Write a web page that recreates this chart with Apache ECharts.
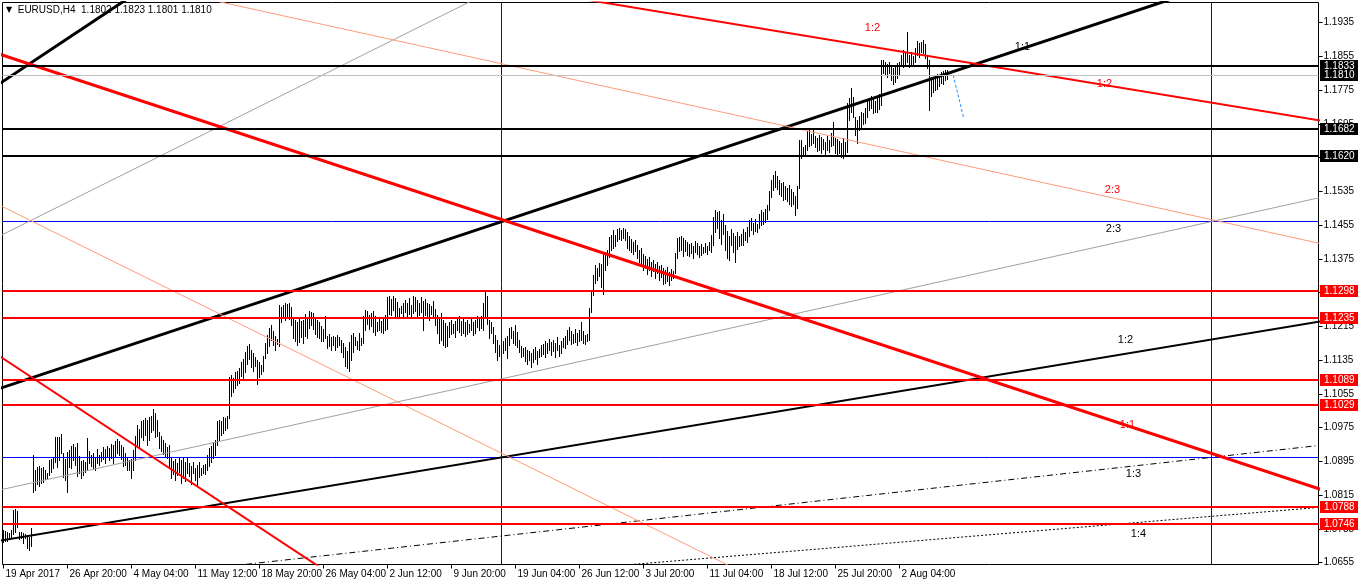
<!DOCTYPE html>
<html><head><meta charset="utf-8">
<script src="https://cdn.jsdelivr.net/npm/echarts@6.0.0/dist/echarts.min.js"></script>
<style>html,body{margin:0;padding:0;background:#fff}#c{width:1358px;height:584px}</style>
</head><body><div id="c"></div>
<script>
// ---- DATA ----
const highs = [
1.0733,1.0730,1.0728,1.0726,1.0733,1.0780,1.0782,1.0778,1.0728,1.0728,1.0726,1.0723,1.0721,1.0716,1.0738,
1.0910,1.0875,1.0882,1.0884,1.0879,1.0882,1.0875,1.0868,1.0898,1.0901,1.0903,1.0953,1.0953,1.0953,1.0960,
1.0915,1.0901,1.0917,1.0922,1.0932,1.0936,1.0929,1.0939,1.0908,1.0896,1.0898,1.0894,1.0951,1.0920,1.0910,
1.0915,1.0905,1.0924,1.0910,1.0917,1.0929,1.0924,1.0932,1.0927,1.0936,1.0934,1.0943,1.0948,1.0943,1.0934,
1.0929,1.0915,1.0905,1.0898,1.0901,1.0922,1.0955,1.0981,1.0972,1.0991,1.0993,1.0998,1.0993,1.1000,1.1003,
1.1019,1.1010,1.0993,1.0965,1.0955,1.0946,1.0939,1.0929,1.0934,1.0903,1.0896,1.0901,1.0891,1.0905,1.0898,
1.0903,1.0894,1.0903,1.0891,1.0884,1.0894,1.0879,1.0887,1.0894,1.0879,1.0887,1.0889,
1.0910,1.0927,1.0932,1.0941,1.0946,1.0991,1.0993,1.0991,1.1000,1.0998,1.1003,1.1095,1.1100,1.1093,1.1107,
1.1109,1.1116,1.1131,1.1138,1.1154,1.1169,1.1173,1.1159,1.1152,1.1143,1.1136,1.1131,1.1124,1.1145,1.1176,
1.1195,1.1211,1.1218,1.1204,1.1192,1.1185,1.1266,1.1261,1.1266,1.1271,1.1268,1.1271,1.1261,1.1237,1.1230,
1.1226,1.1235,1.1228,1.1230,1.1245,1.1235,1.1252,1.1249,1.1247,1.1235,1.1230,1.1226,1.1216,1.1209,1.1240,
1.1192,1.1197,1.1190,1.1192,1.1190,1.1195,1.1190,1.1183,1.1176,1.1166,1.1157,1.1178,1.1195,1.1199,1.1190,
1.1180,1.1199,1.1188,1.1240,1.1254,1.1252,1.1242,1.1247,1.1252,1.1240,1.1226,1.1237,1.1228,1.1235,1.1242,
1.1284,1.1287,1.1280,1.1287,1.1282,1.1273,1.1259,1.1263,1.1271,1.1278,1.1271,1.1282,1.1266,1.1287,1.1284,1.1278,1.1271,
1.1284,1.1275,1.1280,1.1271,1.1268,1.1263,1.1275,1.1256,1.1242,1.1235,1.1247,1.1230,1.1223,1.1216,1.1226,
1.1230,1.1221,1.1228,1.1237,1.1240,1.1228,1.1233,1.1226,1.1230,1.1221,1.1233,1.1226,1.1230,1.1240,1.1235,
1.1240,1.1271,1.1301,1.1287,1.1230,1.1226,1.1214,1.1195,1.1183,1.1171,1.1176,1.1180,1.1188,1.1192,1.1211,
1.1214,1.1204,1.1218,1.1202,1.1183,1.1169,1.1164,1.1166,1.1159,1.1157,1.1152,1.1162,1.1166,1.1157,1.1162,
1.1171,1.1173,1.1180,1.1176,1.1185,1.1178,1.1183,1.1176,1.1190,1.1171,1.1180,1.1188,1.1192,1.1207,1.1214,
1.1204,1.1197,1.1209,1.1199,1.1207,1.1226,1.1204,1.1195,1.1197,1.1259,1.1301,1.1337,1.1361,1.1354,1.1365,
1.1363,1.1389,1.1391,1.1396,1.1427,1.1432,1.1444,1.1432,1.1446,1.1448,1.1444,1.1448,1.1446,
1.1439,1.1430,1.1422,1.1415,1.1420,1.1408,1.1396,1.1401,1.1387,1.1382,1.1375,1.1380,1.1368,1.1373,1.1363,
1.1368,1.1358,1.1361,1.1354,1.1349,1.1356,1.1344,1.1351,1.1346,1.1389,1.1425,1.1427,1.1430,1.1425,1.1420,
1.1415,1.1411,1.1413,1.1406,1.1418,1.1413,1.1406,1.1411,1.1403,1.1413,1.1406,1.1415,1.1432,1.1474,1.1491,
1.1486,1.1489,1.1467,1.1482,1.1455,1.1441,1.1430,1.1446,1.1437,1.1430,1.1439,1.1430,1.1434,1.1446,1.1439,
1.1451,1.1467,1.1472,1.1460,1.1470,1.1458,1.1482,1.1491,1.1486,1.1493,1.1503,1.1536,1.1562,1.1574,1.1583,
1.1571,1.1562,1.1555,1.1557,1.1548,1.1543,1.1550,1.1541,1.1534,1.1524,1.1548,1.1657,1.1657,
1.1640,1.1645,1.1678,1.1683,1.1671,1.1681,1.1666,1.1662,1.1669,1.1664,1.1659,1.1652,1.1666,1.1657,1.1674,
1.1700,1.1662,1.1659,1.1655,1.1650,1.1662,1.1652,1.1745,1.1757,1.1780,1.1759,1.1711,1.1704,1.1714,1.1723,
1.1721,1.1733,1.1752,1.1757,1.1761,1.1754,1.1749,1.1757,1.1766,1.1847,1.1847,1.1842,1.1837,1.1842,1.1832,
1.1828,1.1832,1.1839,1.1842,1.1858,1.1870,1.1863,1.1913,1.1858,1.1865,1.1856,1.1875,1.1892,1.1887,1.1889,
1.1894,1.1885,1.1858,1.1847,1.1806,1.1801,1.1811,1.1813,1.1808,1.1818,1.1820,1.1823,1.1823
];
const lows = [
1.0704,1.0706,1.0706,1.0711,1.0716,1.0723,1.0728,1.0740,1.0711,1.0714,1.0702,1.0714,1.0690,1.0685,1.0695,
1.0823,1.0827,1.0842,1.0837,1.0844,1.0846,1.0853,1.0856,1.0863,1.0870,1.0879,1.0894,1.0882,1.0898,1.0915,
1.0858,1.0851,1.0823,1.0882,1.0879,1.0898,1.0887,1.0861,1.0868,1.0856,1.0863,1.0870,1.0875,1.0891,1.0884,
1.0879,1.0875,1.0891,1.0887,1.0896,1.0901,1.0891,1.0905,1.0898,1.0903,1.0891,1.0905,1.0915,1.0910,1.0901,
1.0884,1.0887,1.0875,1.0875,1.0856,1.0875,1.0898,1.0929,1.0927,1.0953,1.0946,1.0958,1.0934,1.0946,1.0965,
1.0970,1.0953,1.0955,1.0927,1.0920,1.0912,1.0905,1.0903,1.0882,1.0856,1.0865,1.0851,1.0863,1.0870,1.0844,
1.0856,1.0849,1.0868,1.0861,1.0842,1.0868,1.0851,1.0837,1.0858,1.0863,1.0868,1.0865,
1.0875,1.0884,1.0894,1.0903,1.0910,1.0934,1.0946,1.0958,1.0962,1.0970,1.0975,1.0998,1.1050,1.1060,1.1069,
1.1076,1.1081,1.1097,1.1093,1.1107,1.1126,1.1138,1.1119,1.1109,1.1121,1.1079,1.1095,1.1102,1.1109,1.1140,
1.1152,1.1169,1.1183,1.1171,1.1159,1.1173,1.1169,1.1226,1.1235,1.1230,1.1240,1.1233,1.1218,1.1188,1.1180,
1.1171,1.1178,1.1190,1.1176,1.1192,1.1188,1.1211,1.1218,1.1209,1.1197,1.1190,1.1188,1.1180,1.1180,1.1188,
1.1164,1.1169,1.1159,1.1171,1.1159,1.1166,1.1171,1.1154,1.1143,1.1121,1.1116,1.1109,1.1136,1.1154,1.1171,
1.1162,1.1159,1.1171,1.1176,1.1207,1.1221,1.1209,1.1216,1.1202,1.1195,1.1204,1.1207,1.1202,1.1199,1.1207,
1.1209,1.1245,1.1242,1.1254,1.1240,1.1237,1.1237,1.1247,1.1240,1.1249,1.1240,1.1245,1.1237,1.1247,1.1252,1.1240,1.1242,
1.1249,1.1207,1.1242,1.1235,1.1230,1.1245,1.1235,1.1218,1.1199,1.1176,1.1183,1.1171,1.1166,1.1169,1.1190,
1.1197,1.1199,1.1190,1.1207,1.1202,1.1195,1.1199,1.1192,1.1197,1.1202,1.1207,1.1195,1.1199,1.1214,1.1207,
1.1211,1.1207,1.1237,1.1221,1.1188,1.1199,1.1176,1.1154,1.1136,1.1145,1.1143,1.1152,1.1159,1.1140,1.1171,
1.1188,1.1176,1.1171,1.1166,1.1154,1.1143,1.1145,1.1133,1.1126,1.1136,1.1119,1.1131,1.1138,1.1126,1.1143,
1.1145,1.1150,1.1143,1.1152,1.1159,1.1147,1.1157,1.1143,1.1159,1.1145,1.1152,1.1166,1.1164,1.1173,1.1183,
1.1173,1.1176,1.1178,1.1171,1.1180,1.1183,1.1176,1.1173,1.1180,1.1183,1.1249,1.1290,1.1318,1.1325,1.1335,
1.1308,1.1292,1.1349,1.1361,1.1380,1.1396,1.1401,1.1406,1.1418,1.1423,1.1420,1.1425,1.1420,
1.1401,1.1396,1.1392,1.1387,1.1394,1.1377,1.1368,1.1358,1.1349,1.1354,1.1339,1.1349,1.1335,1.1346,1.1330,
1.1342,1.1325,1.1332,1.1316,1.1318,1.1323,1.1313,1.1325,1.1330,1.1342,1.1377,1.1394,1.1396,1.1382,1.1394,
1.1384,1.1382,1.1389,1.1377,1.1392,1.1387,1.1380,1.1384,1.1389,1.1392,1.1387,1.1396,1.1392,1.1408,1.1439,
1.1448,1.1425,1.1411,1.1434,1.1396,1.1377,1.1373,1.1408,1.1392,1.1368,1.1399,1.1406,1.1408,1.1408,1.1420,
1.1415,1.1430,1.1444,1.1434,1.1441,1.1439,1.1448,1.1455,1.1458,1.1463,1.1470,1.1491,1.1522,1.1538,1.1545,
1.1541,1.1529,1.1524,1.1515,1.1517,1.1512,1.1505,1.1500,1.1505,1.1479,1.1496,1.1543,1.1614,
1.1619,1.1621,1.1633,1.1643,1.1645,1.1650,1.1640,1.1631,1.1633,1.1626,1.1636,1.1621,1.1633,1.1628,1.1643,
1.1645,1.1626,1.1621,1.1626,1.1617,1.1614,1.1624,1.1628,1.1704,1.1723,1.1711,1.1669,1.1650,1.1681,1.1685,
1.1695,1.1697,1.1711,1.1728,1.1733,1.1721,1.1723,1.1723,1.1730,1.1740,1.1816,1.1811,1.1806,1.1816,1.1799,
1.1790,1.1794,1.1804,1.1811,1.1832,1.1830,1.1837,1.1842,1.1830,1.1835,1.1832,1.1842,1.1858,1.1854,1.1865,
1.1863,1.1851,1.1828,1.1728,1.1761,1.1771,1.1776,1.1778,1.1785,1.1792,1.1790,1.1799,1.1801
];
const timeTickBars = [0,32,64,96,128,160,192,224,256,288,320,352,384,416,448];
const timeTickLabels = ['19 Apr 2017','26 Apr 20:00','4 May 04:00','11 May 12:00','18 May 20:00','26 May 04:00','2 Jun 12:00','9 Jun 20:00','19 Jun 04:00','26 Jun 12:00','3 Jul 20:00','11 Jul 04:00','18 Jul 12:00','25 Jul 20:00','2 Aug 04:00'];
const priceTicks = [1.0655,1.0735,1.0815,1.0895,1.0975,1.1055,1.1135,1.1215,1.1295,1.1375,1.1455,1.1535,1.1615,1.1695,1.1775,1.1855,1.1935];
const redLevels = [1.1298,1.1235,1.1089,1.1029,1.0788,1.0746];
const blackLevels = [1.1833,1.1682,1.1620];
const bidLevel = [1.1810];
const blueLevels = [1.1465,1.09048];
const blueBars = [249,604];
// Gann fan lines, each from bar fanBars[0] to bar fanBars[1]  (order: 2:1, 3:2, 1:1, 2:3, 1:2, 1:3, 1:4)
const fanBars = [-1.5, 658.5];
const blackFanStart = [1.17918,1.14303,1.10687,1.08277,1.07072,1.05867,1.05264];
const blackFanEnd   = [1.38712,1.29898,1.21084,1.15208,1.12271,1.09333,1.07864];
const redFanStart = [1.11430,1.15013,1.18597,1.20986,1.22181];
const redFanEnd   = [0.90818,0.99554,1.08291,1.14115,1.17028];
const fanLabelTexts  = ['1:2','1:1','1:2','2:3','2:3','1:2','1:1','1:3','1:4'];
const fanLabelBars   = [434.5,509.5,550.5,554.5,555,561,562,565,567.5];
const fanLabelPrices = [1.19224,1.18774,1.17897,1.15384,1.14460,1.11829,1.09814,1.08653,1.07230];
const projBars = [474.85,480.15];
const projPrices = [1.1811,1.1708];

// ---- STYLES / LAYOUT ----
const FONT = '"Liberation Sans", Arial, sans-serif';
const X_MIN = -0.5, X_MAX = 657.5, Y_MIN = 1.065074, Y_MAX = 1.198288;
const SALMON = '#ff9c7a', GRAY = '#a0a0a0';
const blackFanStyles = [
  {color:'#000', width:3}, {color:GRAY, width:1}, {color:'#000', width:3}, {color:GRAY, width:1},
  {color:'#000', width:2}, {color:'#000', width:1, type:[6,3,1,3]}, {color:'#000', width:1, type:[2,2]}
];
const redFanStyles = [
  {color:'#ff0000', width:2}, {color:SALMON, width:1}, {color:'#ff0000', width:3}, {color:SALMON, width:1}, {color:'#ff0000', width:2}
];
const fanLabelColors = ['#ff0000','#000','#ff0000','#ff0000','#000','#000','#ff0000','#000','#000'];

const chart = echarts.init(document.getElementById('c'), null, {renderer:'canvas'});
const series = [];

series.push({
  type:'custom', z:2, silent:true,
  data: highs.map((h,i)=>[i,h,lows[i]]),
  encode:{x:0,y:[1,2]},
  renderItem:(params, api)=>{
    const a = api.coord([api.value(0), api.value(1)]);
    const b = api.coord([api.value(0), api.value(2)]);
    const x = Math.floor(a[0]) + 0.5;
    return {type:'line', shape:{x1:x, y1:Math.round(a[1]), x2:x, y2:Math.round(b[1])+1}, style:{stroke:'#000', lineWidth:1}};
  }
});

function fanSeries(starts, ends, styles){
  starts.forEach((s,k)=>{
    const st = styles[k];
    series.push({type:'line', z:3, silent:true, symbol:'none', clip:true, animation:false,
      data:[[fanBars[0], s],[fanBars[1], ends[k]]],
      lineStyle:{color:st.color, width:st.width, type:st.type || 'solid'}});
  });
}
fanSeries(blackFanStart, blackFanEnd, blackFanStyles);
fanSeries(redFanStart, redFanEnd, redFanStyles);

// blue grid lines
series.push({type:'custom', z:3, silent:true, data: blueLevels.map(v=>[v]),
  renderItem:(params, api)=>{
    const a = api.coord([X_MIN, api.value(0)]), b = api.coord([X_MAX, api.value(0)]);
    const y = Math.round(a[1]) + 0.5;
    return {type:'line', shape:{x1:a[0], y1:y, x2:b[0], y2:y}, style:{stroke:'#0000ff', lineWidth:1}};
  }});
series.push({type:'custom', z:3, silent:true, data: blueBars.map(v=>[v]),
  renderItem:(params, api)=>{
    const a = api.coord([api.value(0), Y_MAX]), b = api.coord([api.value(0), Y_MIN]);
    const x = Math.floor(a[0]) + 0.5;
    return {type:'line', shape:{x1:x, y1:a[1], x2:x, y2:b[1]}, style:{stroke:'#0000ff', lineWidth:1}};
  }});

// projection
series.push({type:'line', z:4, silent:true, symbol:'none', data: projBars.map((b,i)=>[b, projPrices[i]]),
  lineStyle:{color:'#1e90ff', width:1, type:[3,2]}});

// horizontal levels with axis boxes
function levelSeries(levels, lineColor, lineWidth, boxColor){
  series.push({type:'custom', z:5, silent:true, clip:false, data: levels.map(v=>[v]),
    renderItem:(params, api)=>{
      const p = api.value(0);
      const a = api.coord([X_MIN, p]), b = api.coord([X_MAX, p]);
      const yc = Math.round(a[1]);
      const y = lineWidth % 2 ? yc + 0.5 : yc;
      return {type:'group', children:[
        {type:'line', shape:{x1:a[0], y1:y, x2:b[0], y2:y}, style:{stroke:lineColor, lineWidth:lineWidth}},
        {type:'rect', shape:{x:Math.round(b[0])+1, y:yc-6, width:38, height:12}, style:{fill:boxColor}},
        {type:'text', x:Math.round(b[0])+5, y:yc, style:{text:p.toFixed(4), fill:'#fff', font:'10px '+FONT, verticalAlign:'middle', align:'left'}}
      ]};
    }});
}
levelSeries(redLevels, '#ff0000', 2, '#ff0000');
levelSeries(blackLevels, '#000', 2, '#000');
levelSeries(bidLevel, '#c0c0c0', 1, '#000');

// fan labels
series.push({type:'custom', z:6, silent:true, clip:false,
  data: fanLabelTexts.map((t,i)=>[fanLabelBars[i], fanLabelPrices[i], i]),
  renderItem:(params, api)=>{
    const i = api.value(2);
    const a = api.coord([api.value(0), api.value(1)]);
    return {type:'text', x:a[0], y:a[1], style:{text:fanLabelTexts[i], fill:fanLabelColors[i], font:'11px '+FONT, align:'center', verticalAlign:'middle'}};
  }});

chart.setOption({
  animation:false,
  backgroundColor:'#fff',
  title:{text:'{tri|▼}  EURUSD,H4  1.1802 1.1823 1.1801 1.1810', left:6, top:5, padding:0,
    textStyle:{fontFamily:FONT, fontSize:10, fontWeight:'normal', color:'#000',
      rich:{tri:{fontSize:8, fontFamily:'"DejaVu Sans"', color:'#000'}}}},
  grid:{left:2.5, top:2.5, width:1316, height:562, show:true, borderColor:'#000', borderWidth:1, backgroundColor:'#fff'},
  xAxis:{type:'value', min:X_MIN, max:X_MAX, splitLine:{show:false}, axisLine:{show:false, onZero:false},
    axisTick:{show:true, customValues:timeTickBars, length:4, lineStyle:{color:'#000'}},
    axisLabel:{customValues:timeTickBars, formatter:v=>timeTickLabels[timeTickBars.indexOf(v)] || '',
      align:'left', margin:5, fontFamily:FONT, fontSize:10, color:'#000', padding:[0,0,0,2]}},
  yAxis:{type:'value', position:'right', min:Y_MIN, max:Y_MAX, splitLine:{show:false}, axisLine:{show:false, onZero:false},
    axisTick:{show:true, customValues:priceTicks, length:4, lineStyle:{color:'#000'}},
    axisLabel:{customValues:priceTicks, formatter:v=>v.toFixed(4), margin:5, fontFamily:FONT, fontSize:10, color:'#000'}},
  series: series
});
</script></body></html>
